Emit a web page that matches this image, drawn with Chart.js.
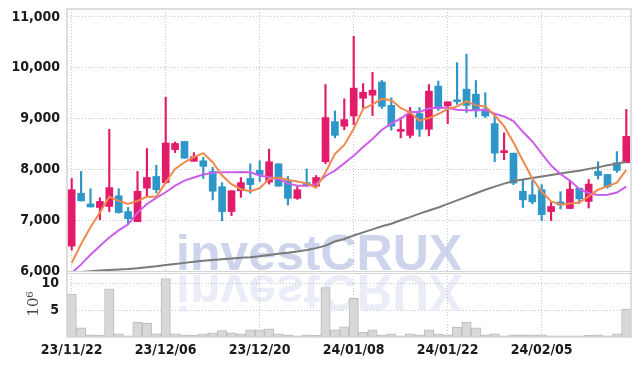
<!DOCTYPE html>
<html>
<head>
<meta charset="utf-8">
<script src="https://cdn.jsdelivr.net/npm/chart.js@4.4.1/dist/chart.umd.min.js"></script>
<style>
  html, body { margin: 0; padding: 0; background: #fff; }
</style>
</head>
<body>
<canvas id="stockChart" width="639" height="366"></canvas>
<script>
// trading days, YY/MM/DD
const dates = ['23/11/22','23/11/23','23/11/24','23/11/27','23/11/28','23/11/29','23/11/30','23/12/01','23/12/04','23/12/05',
  '23/12/06','23/12/07','23/12/08','23/12/11','23/12/12','23/12/13','23/12/14','23/12/15','23/12/18','23/12/19',
  '23/12/20','23/12/21','23/12/22','23/12/26','23/12/27','23/12/28','24/01/02','24/01/03','24/01/04','24/01/05',
  '24/01/08','24/01/09','24/01/10','24/01/11','24/01/12','24/01/15','24/01/16','24/01/17','24/01/18','24/01/19',
  '24/01/22','24/01/23','24/01/24','24/01/25','24/01/26','24/01/29','24/01/30','24/01/31','24/02/01','24/02/02',
  '24/02/05','24/02/06','24/02/07','24/02/08','24/02/13','24/02/14','24/02/15','24/02/16','24/02/19','24/02/20'];

const open = [6490,7530,7320,7250,7270,7480,7170,6970,7630,7860, 7740,8390,8550,8160,8170,7960,7660,7170,7580,7820,
  7980,7750,8110,7780,7430,7740,7670,8150,8940,8850, 9050,9400,9460,9720,9260,8750,8670,9100,8790,9640,
  9250,9340,9580,9480,9190,8900,8330,8320,7570,7500, 7600,7170,7360,7230,7630,7370,7960,7900,8130,8130];
const close = [7600,7380,7260,7370,7640,7150,7030,7570,7840,7600, 8520,8510,8220,8250,8060,7570,7170,7580,7740,7700,
  7900,8150,7670,7430,7600,7690,7840,9020,8670,8980, 9600,9520,9560,9240,8850,8770,9080,8790,9540,9200,
  9330,9330,9260,9180,9050,8320,8340,7730,7400,7360, 7110,7270,7300,7610,7420,7710,7880,7660,7980,8650];
const high = [7820,7960,7620,7440,8790,7620,7250,7960,8410,8080, 9420,8540,8550,8330,8240,8040,7740,7580,7840,8110,
  8170,8400,8110,7860,7680,8010,7880,9670,9150,9390, 10620,9690,9910,9750,9410,9020,9220,9220,9670,9740,
  9330,10100,10270,9750,9510,9060,8720,8320,7800,7780, 7700,7350,7560,7780,7630,7800,8150,7900,8350,9180];
const low = [6410,7380,7260,7010,7170,7140,6930,6970,7480,7540, 7720,8330,8220,8160,7820,7400,6990,7090,7450,7530,
  7760,7710,7670,7300,7410,7660,7650,8110,8620,8780, 8880,9210,9060,9200,8770,8620,8620,8650,8660,9160,
  8900,9280,9120,9030,9020,8150,8190,7700,7250,7320, 6990,6990,7220,7230,7330,7240,7810,7630,7940,8130];

// moving averages
const ma5 = [6160,6530,6860,7150,7460,7380,7320,7380,7460,7460, 7745,8010,8140,8240,8320,8140,7880,7710,7610,7570,
  7630,7810,7840,7790,7760,7725,7640,7940,8300,8480, 8800,9190,9280,9390,9360,9210,9120,8960,9010,9090,
  9190,9240,9340,9260,9240,9060,8850,8530,8170,7820, 7560,7370,7310,7330,7350,7470,7600,7670,7740,7990];
const ma20 = [5960,6130,6320,6490,6660,6800,6920,7150,7320,7440, 7550,7680,7780,7840,7900,7935,7943,7943,7950,7943,
  7880,7845,7810,7725,7680,7680,7710,7870,7975,8120, 8270,8440,8600,8780,8900,9000,9130,9130,9200,9220,
  9215,9175,9162,9162,9170,9096,9040,8950,8740,8550, 8310,8075,7910,7780,7615,7530,7495,7500,7545,7660];
const maLong = [5967,5980,5995,6010,6020,6030,6040,6055,6075,6095, 6120,6140,6160,6180,6200,6215,6230,6245,6260,6270,
  6290,6315,6340,6360,6385,6415,6450,6500,6580,6630, 6700,6760,6820,6880,6930,7000,7060,7130,7190,7250,
  7320,7390,7460,7530,7600,7660,7720,7770,7800,7830, 7860,7890,7920,7950,7975,8010,8040,8080,8110,8150];

// volume in millions of shares
const volume = [8.0,1.7,0.4,0.35,9.0,0.6,0.2,2.8,2.6,0.6, 10.9,0.6,0.4,0.3,0.6,0.8,1.2,0.8,0.6,1.35,
  1.35,1.5,0.6,0.4,0.2,0.4,0.3,9.2,1.35,1.9, 7.2,0.85,1.35,0.4,0.6,0.2,0.6,0.4,1.35,0.6,
  0.4,1.85,2.8,1.7,0.4,0.6,0.2,0.4,0.4,0.4, 0.4,0.2,0.2,0.2,0.2,0.3,0.4,0.2,0.6,5.2];

const priceTicks = [6000, 7000, 8000, 9000, 10000, 11000];
const volumeTicks = [5, 10];
const watermark = 'investCRUX';

const UP = '#e31b6b';
const DOWN = '#2e96c8';
const gridColor = '#c3c6d6';
const tickFont = { family: "'Liberation Sans Narrow', 'DejaVu Sans Condensed', sans-serif", size: 14, weight: 'bold' };

const candleColors = close.map((c, i) => c >= open[i] ? UP : DOWN);
const wicks = low.map((l, i) => [l, high[i]]);
const bodies = open.map((o, i) => [o, close[i]]);

// fixed axis widths, no extra label padding so the plot fills the frame
function fitLeftAxis(scale) {
  scale.width = 67;
  scale.paddingTop = 0;
  scale.paddingBottom = 0;
}

// watermark + frame lines
const framePlugin = {
  id: 'frame',
  beforeDatasetsDraw(chart) {
    const ctx = chart.ctx;
    const base = chart.scales.y.bottom - 1;
    ctx.save();
    ctx.font = 'bold 50px "Liberation Sans", Arial, sans-serif';
    ctx.textBaseline = 'alphabetic';
    ctx.fillStyle = 'rgba(172,184,222,0.6)';
    ctx.fillText(watermark, 176, base);
    ctx.translate(0, 2 * base + 5);
    ctx.scale(1, -1);
    ctx.fillStyle = 'rgba(172,184,222,0.25)';
    ctx.fillText(watermark, 176, base);
    ctx.restore();
  },
  afterDraw(chart) {
    const ctx = chart.ctx;
    const a = chart.chartArea;
    ctx.save();
    ctx.strokeStyle = '#d4d4d4';
    ctx.lineWidth = 1.5;
    ctx.strokeRect(a.left, a.top, a.right - a.left, a.bottom - a.top);
    ctx.lineWidth = 1;
    ctx.beginPath();
    ctx.moveTo(a.left, chart.scales.y.bottom + 0.5);
    ctx.lineTo(a.right, chart.scales.y.bottom + 0.5);
    ctx.moveTo(a.left, chart.scales.y.bottom + 2.5);
    ctx.lineTo(a.right, chart.scales.y.bottom + 2.5);
    ctx.stroke();
    ctx.restore();
  }
};

const ctx = document.getElementById('stockChart').getContext('2d');
const stockChart = new Chart(ctx, {
  data: {
    labels: dates,
    datasets: [
      { type: 'line', label: 'MA5', data: ma5, yAxisID: 'y', borderColor: '#f0894f', borderWidth: 2, pointRadius: 0, tension: 0, order: 0 },
      { type: 'line', label: 'MA20', data: ma20, yAxisID: 'y', borderColor: '#cb5fe9', borderWidth: 2, pointRadius: 0, tension: 0, order: 0 },
      { type: 'line', label: 'MA60', data: maLong, yAxisID: 'y', borderColor: '#7a7a7a', borderWidth: 2, pointRadius: 0, tension: 0, order: 0 },
      { type: 'bar', label: 'body', data: bodies, yAxisID: 'y', backgroundColor: candleColors, barThickness: 7, minBarLength: 2, grouped: false, order: 1 },
      { type: 'bar', label: 'wick', data: wicks, yAxisID: 'y', backgroundColor: candleColors, barThickness: 1.5, grouped: false, order: 2 },
      { type: 'bar', label: 'volume', data: volume, yAxisID: 'yv', backgroundColor: '#d8d8d8', borderColor: '#bababa', borderWidth: 1,
        barPercentage: 1, categoryPercentage: 1, grouped: false, order: 3 }
    ]
  },
  options: {
    responsive: false,
    animation: false,
    layout: { padding: { top: 9, right: 8, left: 0, bottom: 0 } },
    plugins: { legend: { display: false }, tooltip: { enabled: false } },
    scales: {
      x: {
        type: 'category',
        offset: true,
        afterFit(scale) { scale.height = 29; scale.paddingLeft = 0; scale.paddingRight = 0; },
        grid: { offset: false, color: gridColor, drawTicks: false },
        border: { display: false, dash: [1, 2] },
        ticks: {
          autoSkip: false, maxRotation: 0, padding: 5, color: '#1a1a1a', font: tickFont,
          callback(v, i) { return i % 10 === 0 ? dates[i] : null; }
        }
      },
      yv: {
        type: 'linear',
        position: 'left',
        stack: 'panels',
        stackWeight: 66,
        min: 0,
        max: 12.3,
        afterFit: fitLeftAxis,
        afterBuildTicks(scale) { scale.ticks = volumeTicks.map(v => ({ value: v })); },
        grid: { color: gridColor, drawTicks: false },
        border: { display: false, dash: [1, 2] },
        title: { display: true, text: '10⁶', color: '#444', font: { family: "'DejaVu Serif', serif", size: 15 }, padding: { top: 25, bottom: 0 } },
        ticks: { padding: 8, color: '#1a1a1a', font: tickFont }
      },
      y: {
        type: 'linear',
        position: 'left',
        stack: 'panels',
        stackWeight: 262,
        min: 6000,
        max: 11157,
        afterFit: fitLeftAxis,
        afterBuildTicks(scale) { scale.ticks = priceTicks.map(v => ({ value: v })); },
        grid: { color: gridColor, drawTicks: false },
        border: { display: false, dash: [1, 2] },
        ticks: {
          padding: 7, color: '#1a1a1a', font: tickFont,
          callback(v) { return v.toLocaleString('en-US'); }
        }
      }
    }
  },
  plugins: [framePlugin]
});
</script>
</body>
</html>
